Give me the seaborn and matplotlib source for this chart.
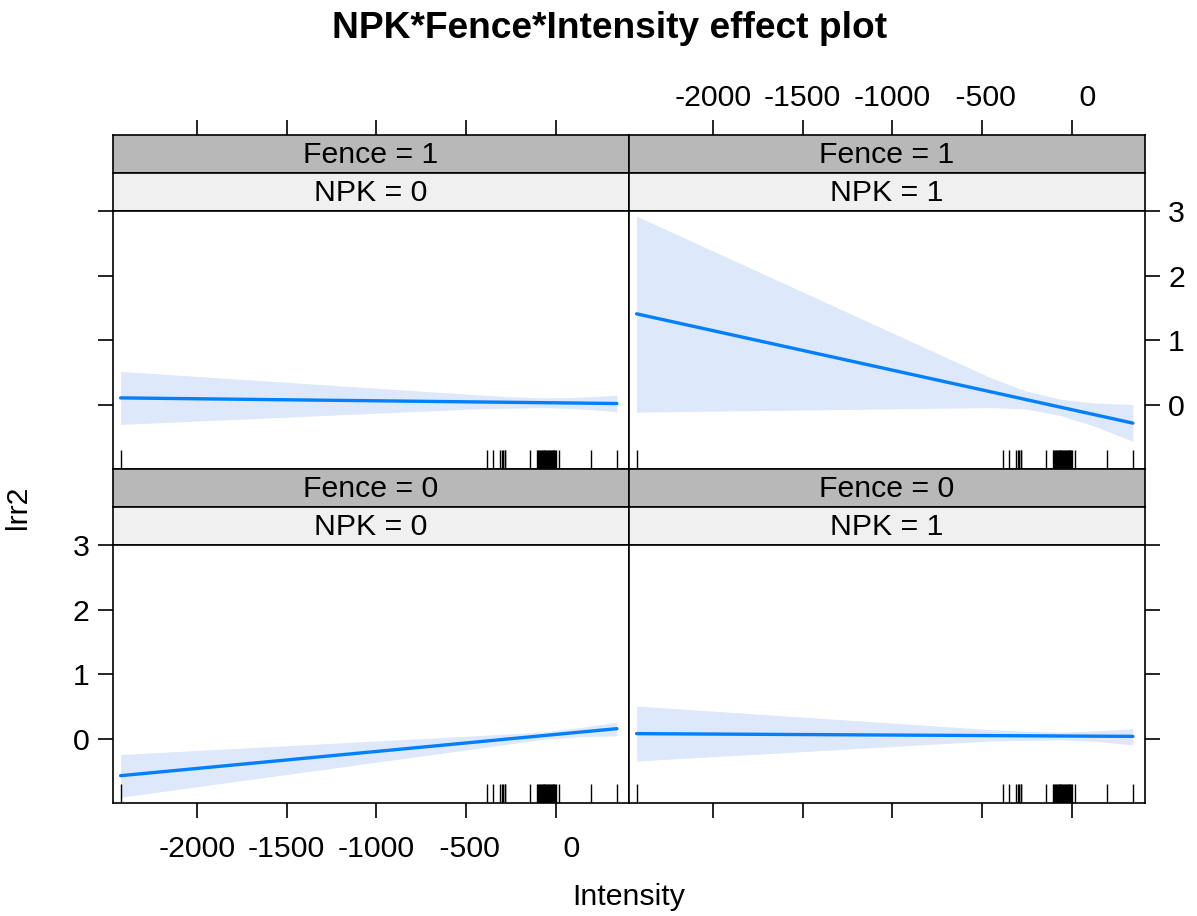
import numpy as np
import pandas as pd
import matplotlib
matplotlib.use("Agg")
import matplotlib.pyplot as plt
import seaborn as sns

# ---------------- data ----------------
intensity_levels = [-2426, -450, -257, -64, 130, 342]

fit_f1_npk0 = [0.11, 0.048, 0.042, 0.036, 0.030, 0.023]
upr_f1_npk0 = [0.52, 0.16, 0.13, 0.11, 0.12, 0.15]
lwr_f1_npk0 = [-0.30, -0.06, -0.05, -0.04, -0.06, -0.10]

fit_f1_npk1 = [1.41, 0.204, 0.086, -0.032, -0.15, -0.28]
upr_f1_npk1 = [2.92, 0.42, 0.22, 0.09, 0.03, 0.01]
lwr_f1_npk1 = [-0.11, -0.04, -0.06, -0.16, -0.33, -0.56]

fit_f0_npk0 = [-0.567, -0.048, 0.003, 0.054, 0.105, 0.16]
upr_f0_npk0 = [-0.24, 0.05, 0.08, 0.11, 0.175, 0.26]
lwr_f0_npk0 = [-0.90, -0.15, -0.075, -0.005, 0.035, 0.05]

fit_f0_npk1 = [0.083, 0.053, 0.050, 0.047, 0.044, 0.041]
upr_f0_npk1 = [0.51, 0.145, 0.12, 0.107, 0.125, 0.16]
lwr_f0_npk1 = [-0.34, -0.03, -0.02, -0.013, -0.035, -0.09]

rug_intensity = [-2426, -381, -350, -308, -300, -292, -284, -280, -141,
                 -102, -97, -92, -87, -82, -77, -72, -67, -62, -57, -52,
                 -47, -42, -37, -32, -27, -22, -17, -12, -7, -2, 0,
                 20, 197, 342]

x_ticks = [-2000, -1500, -1000, -500, 0]
# R's format() pads labels to a common width, shifting short ones right
x_tick_labels = ["-2000", "-1500", "-1000", " -500", "    0"]
y_ticks = [0, 1, 2, 3]
fence_labels = ["1", "0"]   # rows: top, bottom
npk_labels = ["0", "1"]     # columns: left, right

panels = {
    ("1", "0"): (fit_f1_npk0, upr_f1_npk0, lwr_f1_npk0),
    ("1", "1"): (fit_f1_npk1, upr_f1_npk1, lwr_f1_npk1),
    ("0", "0"): (fit_f0_npk0, upr_f0_npk0, lwr_f0_npk0),
    ("0", "1"): (fit_f0_npk1, upr_f0_npk1, lwr_f0_npk1),
}

rows = []
for (fence, npk), (fit, upr, lwr) in panels.items():
    for xv, f, u, l in zip(intensity_levels, fit, upr, lwr):
        rows.append(dict(Fence=fence, NPK=npk, Intensity=xv, fit=f, upper=u, lower=l))
df = pd.DataFrame(rows)

# ---------------- styling ----------------
sns.set_style("white")
plt.rcParams["font.family"] = ["Liberation Sans", "DejaVu Sans"]
plt.rcParams["axes.unicode_minus"] = False
plt.rcParams["text.color"] = "black"
FS = 21.8
LINE_BLUE = "#0080FF"
BAND = "#DDE8FA"
STRIP_DARK = "#B8B8B8"
STRIP_LIGHT = "#F0F0F0"
LW_FRAME = 1.2
TICK_LEN = 10.8

W, H = 1197, 916
fig = plt.figure(figsize=(W / 100, H / 100), dpi=100)
fig.patch.set_facecolor("white")

XLIM = (-2470, 408)
YLIM = (-0.994, 3.0)

col_px = [(112.7, 628.7), (628.7, 1144.7)]
row_px = [(135, 173.3, 211, 469.3), (469.3, 507.3, 545, 803.3)]


def fax(x0, y0, x1, y1):
    return fig.add_axes([x0 / W, 1 - y1 / H, (x1 - x0) / W, (y1 - y0) / H])


def style_frame(ax):
    for s in ax.spines.values():
        s.set_visible(True)
        s.set_color("black")
        s.set_linewidth(LW_FRAME)
    ax.tick_params(axis="both", which="both", direction="out", length=TICK_LEN,
                   width=LW_FRAME, color="black", labelsize=FS, labelcolor="black",
                   pad=6)


for ri, fence in enumerate(fence_labels):
    s1_top, s1_bot, s2_bot, p_bot = row_px[ri]
    for ci, npk in enumerate(npk_labels):
        x0, x1 = col_px[ci]
        sub = df[(df.Fence == fence) & (df.NPK == npk)]

        # ----- strips -----
        ax_f = fax(x0, s1_top, x1, s1_bot)
        ax_f.set_facecolor(STRIP_DARK)
        style_frame(ax_f)
        ax_f.set_xlim(XLIM)
        ax_f.set_ylim(0, 1)
        ax_f.set_yticks([])
        ax_f.text(0.5, 0.47, f"Fence = {fence}", transform=ax_f.transAxes,
                  ha="center", va="center", fontsize=FS, color="black")
        if ri == 0:
            ax_f.set_xticks(x_ticks)
            ax_f.set_xticklabels(x_tick_labels)
            ax_f.tick_params(axis="x", top=True, labeltop=(ci == 1),
                             bottom=False, labelbottom=False)
        else:
            ax_f.set_xticks([])

        ax_n = fax(x0, s1_bot, x1, s2_bot)
        ax_n.set_facecolor(STRIP_LIGHT)
        style_frame(ax_n)
        ax_n.set_xticks([])
        ax_n.set_yticks([])
        ax_n.text(0.5, 0.47, f"NPK = {npk}", transform=ax_n.transAxes,
                  ha="center", va="center", fontsize=FS, color="black")

        # ----- panel -----
        ax = fax(x0, s2_bot, x1, p_bot)
        ax.set_facecolor("white")
        style_frame(ax)
        ax.fill_between(sub["Intensity"], sub["lower"], sub["upper"],
                        color=BAND, lw=0, zorder=1)
        sns.lineplot(data=sub, x="Intensity", y="fit", ax=ax, color=LINE_BLUE,
                     lw=2.4, estimator=None, errorbar=None, zorder=3)
        sns.rugplot(x=rug_intensity, ax=ax, height=0.075, color="black",
                    lw=2.0, expand_margins=False)
        ax.set_xlim(XLIM)
        ax.set_ylim(YLIM)
        ax.set_xticks(x_ticks)
        ax.set_xticklabels(x_tick_labels)
        ax.set_yticks(y_ticks)
        ax.set_xlabel("")
        ax.set_ylabel("")

        bottom_row = ri == 1
        ax.tick_params(axis="x", bottom=bottom_row, labelbottom=(bottom_row and ci == 0),
                       top=False, labeltop=False, pad=12)
        if ci == 0:
            ax.tick_params(axis="y", left=True, labelleft=bottom_row,
                           right=False, labelright=False)
        else:
            ax.tick_params(axis="y", right=True, labelright=not bottom_row,
                           left=False, labelleft=False)

fig.text(610 / W, 1 - 28 / H, "NPK*Fence*Intensity effect plot", ha="center",
         va="center", fontsize=26.7, fontweight="bold", color="black")
fig.text(628.7 / W, 1 - 897 / H, "Intensity", ha="center", va="center",
         fontsize=FS, color="black")
fig.text(18 / W, 1 - 507 / H, "lrr2", ha="center", va="center", rotation=90,
         fontsize=FS, color="black")

fig.savefig("out.png", dpi=100, facecolor="white")
